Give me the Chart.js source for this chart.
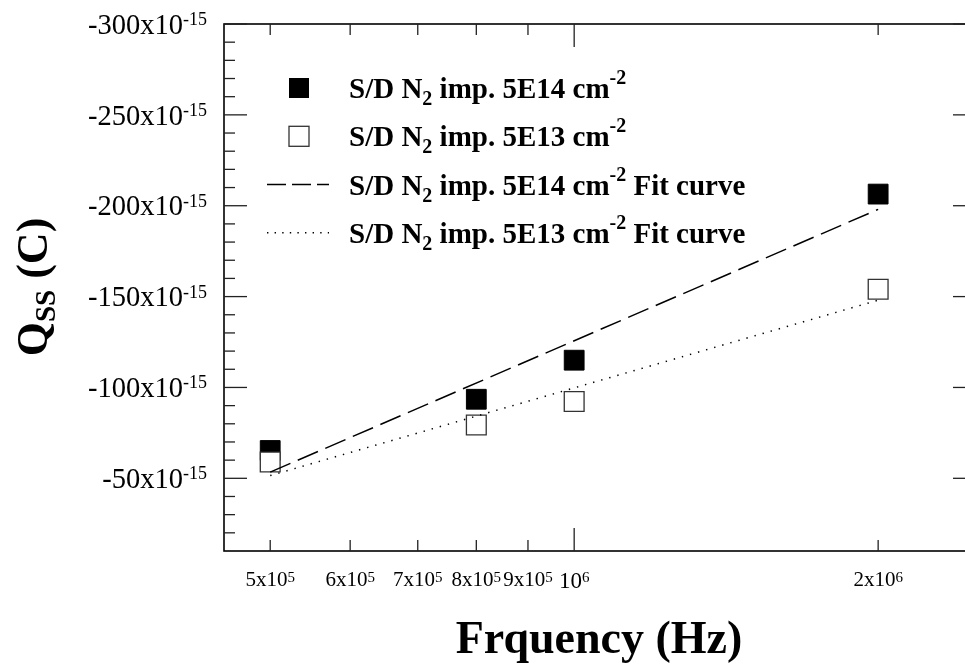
<!DOCTYPE html>
<html><head><meta charset="utf-8">
<script src="https://cdn.jsdelivr.net/npm/chart.js@4.4.0/dist/chart.umd.min.js"></script>
<style>
html,body{margin:0;padding:0;overflow:hidden;background:#fff;width:965px;height:664px}
#wrap{position:absolute;left:0;top:0;width:1000px;height:664px}
</style>
</head><body><div id="wrap"><canvas id="c" width="1000" height="664"></canvas></div>
<script>
// ---- data (charge values in units of 1e-15 C) ----
const frequencies = [5e5, 8e5, 1e6, 2e6];
const qHigh = [-65.3, -93.5, -115, -206.4];   // S/D N2 imp. 5E14
const qLow  = [-59, -79.3, -92.3, -154];       // S/D N2 imp. 5E13
const fitFreq = [5e5, 2e6];
const fitHigh = [-53.4, -198];
const fitLow  = [-51.5, -148];

const xTickValues   = [5e5, 6e5, 7e5, 8e5, 9e5, 1e6, 2e6];
const xTickMantissa = ['5x10', '6x10', '7x10', '8x10', '9x10', '10', '2x10'];
const xTickExponent = ['5', '5', '5', '5', '5', '6', '6'];
const xTickMajor    = [false, false, false, false, false, true, false];
const yMajorTicks = [-300, -250, -200, -150, -100, -50];
const yMinorTicks = [-290, -280, -270, -260, -240, -230, -220, -210, -190, -180, -170, -160,
                     -140, -130, -120, -110, -90, -80, -70, -60, -40, -30, -20];
const yTickExponent = '-15';

const legendItems = [
  {kind: 'filled', pre: 'S/D N', sub: '2', mid: ' imp. 5E14 cm', sup: '-2', post: ''},
  {kind: 'hollow', pre: 'S/D N', sub: '2', mid: ' imp. 5E13 cm', sup: '-2', post: ''},
  {kind: 'dashed', pre: 'S/D N', sub: '2', mid: ' imp. 5E14 cm', sup: '-2', post: ' Fit curve'},
  {kind: 'dotted', pre: 'S/D N', sub: '2', mid: ' imp. 5E13 cm', sup: '-2', post: ' Fit curve'}
];

const SERIF = '"Liberation Serif", "Times New Roman", serif';

function pts(xs, ys) { return xs.map((x, i) => ({x: x, y: ys[i]})); }

const decor = {
  id: 'decor',
  afterDraw(chart) {
    const ctx = chart.ctx, a = chart.chartArea;
    const xs = chart.scales.x, ys = chart.scales.y;
    ctx.save();
    // frame
    ctx.strokeStyle = '#000';
    ctx.lineWidth = 1.6;
    ctx.strokeRect(a.left, a.top, a.right - a.left, a.bottom - a.top);
    const line = (x1, y1, x2, y2) => { ctx.beginPath(); ctx.moveTo(x1, y1); ctx.lineTo(x2, y2); ctx.stroke(); };
    ctx.lineWidth = 1.3;
    ctx.strokeStyle = '#222';
    yMajorTicks.forEach(v => { const y = ys.getPixelForValue(v); line(a.left, y, a.left + 23, y); line(a.right, y, a.right - 23, y); });
    yMinorTicks.forEach(v => { const y = ys.getPixelForValue(v); line(a.left, y, a.left + 11, y); line(a.right, y, a.right - 11, y); });
    xTickValues.forEach((v, i) => {
      const x = xs.getPixelForValue(v); const L = xTickMajor[i] ? 23 : 11;
      line(x, a.bottom, x, a.bottom - L); line(x, a.top, x, a.top + L);
    });
    // y tick labels
    ctx.fillStyle = '#000';
    ctx.textBaseline = 'alphabetic';
    ctx.textAlign = 'left';
    yMajorTicks.forEach(v => {
      const y = ys.getPixelForValue(v);
      const main = String(v) + 'x10';
      ctx.font = '28.5px ' + SERIF; const mw = ctx.measureText(main).width;
      ctx.font = '18px ' + SERIF; const sw = ctx.measureText(yTickExponent).width;
      const right = a.left - 17;
      ctx.font = '28.5px ' + SERIF; ctx.fillText(main, right - sw - mw, y + 9.7);
      ctx.font = '18px ' + SERIF; ctx.fillText(yTickExponent, right - sw, y + 1);
    });
    // x tick labels
    xTickValues.forEach((v, i) => {
      const x = xs.getPixelForValue(v);
      const big = xTickMantissa[i] === '10';
      const mf = (big ? 23 : 21) + 'px ' + SERIF, sf = '15px ' + SERIF;
      ctx.font = mf; const mw = ctx.measureText(xTickMantissa[i]).width;
      ctx.font = sf; const sw = ctx.measureText(xTickExponent[i]).width;
      const left = x - (mw + sw) / 2;
      ctx.font = mf; ctx.fillText(xTickMantissa[i], left, a.bottom + (big ? 37 : 35));
      ctx.font = sf; ctx.fillText(xTickExponent[i], left + mw, a.bottom + 30.5);
    });
    // legend
    const rowBase = [98, 146.3, 194.5, 242.8];
    legendItems.forEach((it, i) => {
      const b = rowBase[i];
      const mx = 299, my = b - 10;
      if (it.kind === 'filled') { ctx.fillStyle = '#000'; ctx.fillRect(mx - 10, my - 10, 20, 20); }
      else if (it.kind === 'hollow') { ctx.fillStyle = '#fff'; ctx.strokeStyle = '#333'; ctx.lineWidth = 1.3; ctx.fillRect(mx - 10, my - 10, 20, 20); ctx.strokeRect(mx - 10, my - 10, 20, 20); }
      else {
        ctx.strokeStyle = '#000'; ctx.lineWidth = 1.5;
        ctx.setLineDash(it.kind === 'dashed' ? [19, 6] : [1.4, 6.2]);
        ctx.lineCap = 'butt';
        line(267, my, 329, my);
        ctx.setLineDash([]);
      }
      ctx.fillStyle = '#000';
      let x = 349;
      const MF = 'bold 29px ' + SERIF, SF = 'bold 20px ' + SERIF;
      ctx.font = MF; ctx.fillText(it.pre, x, b); x += ctx.measureText(it.pre).width;
      ctx.font = SF; ctx.fillText(it.sub, x, b + 7); x += ctx.measureText(it.sub).width;
      ctx.font = MF; ctx.fillText(it.mid, x, b); x += ctx.measureText(it.mid).width;
      ctx.font = SF; ctx.fillText(it.sup, x, b - 14); x += ctx.measureText(it.sup).width;
      if (it.post) { ctx.font = MF; ctx.fillText(it.post, x, b); }
    });
    // x title
    ctx.font = 'bold 46px ' + SERIF; ctx.textAlign = 'center';
    ctx.fillText('Frquency (Hz)', 599, 653);
    // y title (rotated)
    ctx.save();
    ctx.translate(47, 287); ctx.rotate(-Math.PI / 2);
    ctx.textAlign = 'left';
    const F1 = 'bold 44px ' + SERIF, F2 = 'bold 29px ' + SERIF;
    ctx.font = F1; const w1 = ctx.measureText('Q').width, w3 = ctx.measureText(' (C)').width;
    ctx.font = F2; const w2 = ctx.measureText('SS').width;
    let tx = -(w1 + w2 + w3) / 2;
    ctx.font = F1; ctx.fillText('Q', tx, 0); tx += w1;
    ctx.font = F2; ctx.fillText('SS', tx, 8); tx += w2;
    ctx.font = F1; ctx.fillText(' (C)', tx, 0);
    ctx.restore();
    ctx.restore();
  }
};

new Chart(document.getElementById('c'), {
  type: 'scatter',
  data: {
    datasets: [
      {label: 'S/D N2 imp. 5E14 cm-2 Fit curve', data: pts(fitFreq, fitHigh), showLine: true, borderColor: '#000', borderWidth: 1.5, borderDash: [22, 8], pointRadius: 0, fill: false, order: 1},
      {label: 'S/D N2 imp. 5E13 cm-2 Fit curve', data: pts(fitFreq, fitLow), showLine: true, borderColor: '#000', borderWidth: 1.5, borderDash: [1.4, 7], pointRadius: 0, fill: false, order: 2},
      {label: 'S/D N2 imp. 5E13 cm-2', data: pts(frequencies, qLow), showLine: false, pointStyle: 'rect', pointRadius: 14, pointHoverRadius: 14, backgroundColor: '#fff', borderColor: '#333', borderWidth: 1.3, order: 3},
      {label: 'S/D N2 imp. 5E14 cm-2', data: pts(frequencies, qHigh), showLine: false, pointStyle: 'rect', pointRadius: 14, pointHoverRadius: 14, backgroundColor: '#000', borderColor: '#000', borderWidth: 1, order: 4}
    ]
  },
  options: {
    responsive: false,
    animation: false,
    devicePixelRatio: 1,
    layout: {padding: {left: 0, top: 24, right: 24, bottom: 0}},
    plugins: {legend: {display: false}, tooltip: {enabled: false}},
    scales: {
      x: {type: 'logarithmic', min: 4.5e5, max: 2.5e6,
          grid: {display: false}, border: {display: false}, ticks: {display: false},
          afterFit: s => { s.height = 113; }},
      y: {type: 'linear', min: -300, max: -10, reverse: true,
          grid: {display: false}, border: {display: false}, ticks: {display: false},
          afterFit: s => { s.width = 224; }}
    }
  },
  plugins: [decor]
});
</script>
</body></html>
